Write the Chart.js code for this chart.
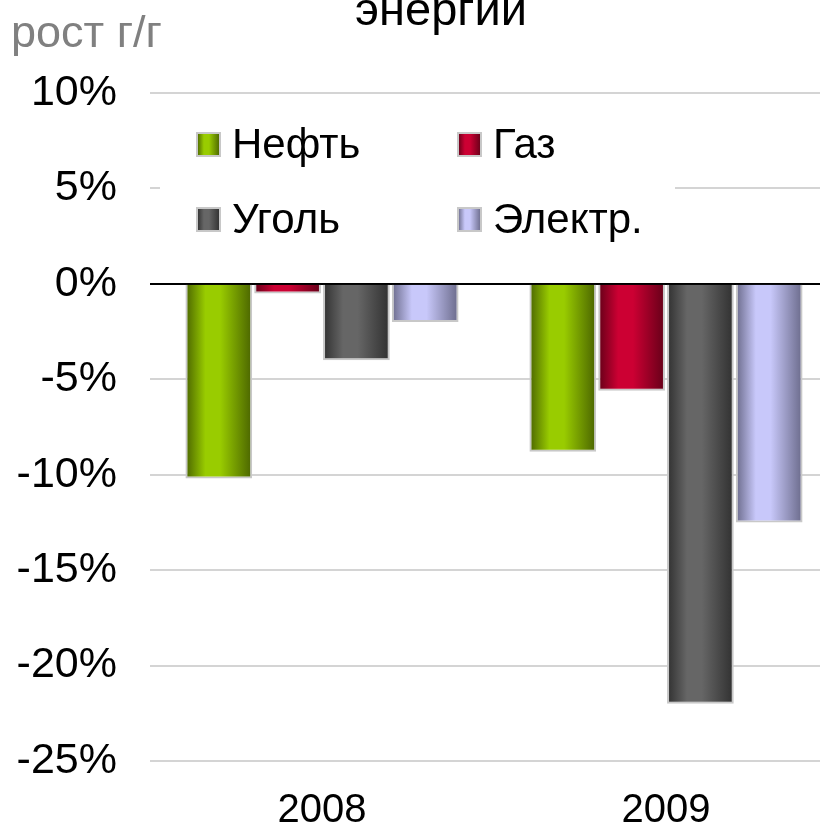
<!DOCTYPE html>
<html>
<head>
<meta charset="utf-8">
<script src="https://cdn.jsdelivr.net/npm/chart.js@4.4.1/dist/chart.umd.min.js"></script>
<style>
  html, body { margin: 0; padding: 0; overflow: hidden; background: #fff; }
  #wrap { position: absolute; left: 0; top: 0; width: 840px; height: 830px; }
</style>
</head>
<body>
<div id="wrap"><canvas id="chart"></canvas></div>
<script>
// data
const years = ["2008", "2009"];
const oil = [-10.2, -8.8];
const gas = [-0.5, -5.6];
const coal = [-4.0, -22.0];
const power = [-2.0, -12.5];
const seriesNames = ["Нефть", "Газ", "Уголь", "Электр."];
const yMin = -25, yMax = 10, yStep = 5;

// dark edge / light middle for each series
const shades = [
  ["#4a6400", "#99cc00"],
  ["#640018", "#cc0033"],
  ["#303030", "#666666"],
  ["#6a6a8a", "#c8c8fa"]
];

const FONT = "'Liberation Sans', Arial, sans-serif";
const CAT_PCT = 0.8, BAR_PCT = 0.97;

function makeGradient(c, x0, x1, pair) {
  const g = c.createLinearGradient(x0, 0, x1, 0);
  g.addColorStop(0, pair[0]);
  g.addColorStop(0.3, pair[1]);
  g.addColorStop(0.52, pair[1]);
  g.addColorStop(1, pair[0]);
  return g;
}

// gradient across each bar, worked out from the x scale
function barFill(ctx) {
  const chart = ctx.chart;
  const xs = chart.scales.x;
  const pair = shades[ctx.datasetIndex];
  if (!xs || ctx.dataIndex === undefined) return pair[1];
  const n = chart.data.datasets.length;
  const catW = xs.width / years.length;
  const groupW = catW * CAT_PCT;
  const slot = groupW / n;
  const center = xs.getPixelForValue(ctx.dataIndex);
  const left = center - groupW / 2 + slot * ctx.datasetIndex + slot * (1 - BAR_PCT) / 2;
  const right = left + slot * BAR_PCT;
  if (!isFinite(left) || !isFinite(right) || right <= left) return pair[1];
  return makeGradient(chart.ctx, left, right, pair);
}

const values = [oil, gas, coal, power];
const datasets = seriesNames.map((name, i) => ({
  label: name,
  data: values[i],
  backgroundColor: barFill,
  borderColor: "#c8c8c8",
  borderWidth: 2,
  borderSkipped: "start",
  categoryPercentage: CAT_PCT,
  barPercentage: BAR_PCT
}));

// heading, unit label and the boxed legend inside the plot
const extras = {
  id: "extras",
  afterDraw(chart) {
    const c = chart.ctx;
    c.save();
    c.textBaseline = "alphabetic";
    c.fillStyle = "#000";
    c.font = "47px " + FONT;
    c.textAlign = "center";
    c.fillText("энергии", 441, 25);
    c.fillStyle = "#808080";
    c.font = "45px " + FONT;
    c.textAlign = "left";
    c.fillText("рост г/г", 11, 47);

    c.fillStyle = "#fff";
    c.fillRect(160, 112, 515, 134);
    const cols = [197, 458];
    const rows = [144, 219];
    c.font = "42px " + FONT;
    c.textBaseline = "middle";
    seriesNames.forEach((name, i) => {
      const x = cols[i % 2], y = rows[Math.floor(i / 2)];
      c.fillStyle = makeGradient(c, x, x + 23, shades[i]);
      c.fillRect(x, y - 11, 23, 23);
      c.strokeStyle = "#c8c8c8";
      c.lineWidth = 2;
      c.strokeRect(x, y - 11, 23, 23);
      c.fillStyle = "#000";
      c.fillText(name, x + 35, y + 2);
    });
    c.restore();
  }
};

new Chart(document.getElementById("chart"), {
  type: "bar",
  data: { labels: years, datasets: datasets },
  plugins: [extras],
  options: {
    responsive: true,
    maintainAspectRatio: false,
    animation: false,
    layout: { padding: { left: 17, top: 93, right: 2, bottom: 0 } },
    plugins: {
      legend: { display: false },
      title: { display: false },
      tooltip: { enabled: false }
    },
    scales: {
      x: {
        grid: { display: false },
        border: { display: false },
        afterFit: (s) => { s.height = 69; },
        ticks: {
          color: "#000",
          padding: 22,
          font: { family: FONT, size: 40, lineHeight: 1.0 }
        }
      },
      y: {
        min: yMin,
        max: yMax,
        border: { display: false },
        afterFit: (s) => { s.width = 133; },
        grid: {
          drawTicks: false,
          color: (ctx) => (ctx.tick && ctx.tick.value === 0 ? "#000" : "#d4d4d4"),
          lineWidth: 2
        },
        ticks: {
          stepSize: yStep,
          color: "#000",
          padding: 33,
          font: { family: FONT, size: 43 },
          callback: (v) => v + "%"
        }
      }
    }
  }
});
</script>
</body>
</html>
